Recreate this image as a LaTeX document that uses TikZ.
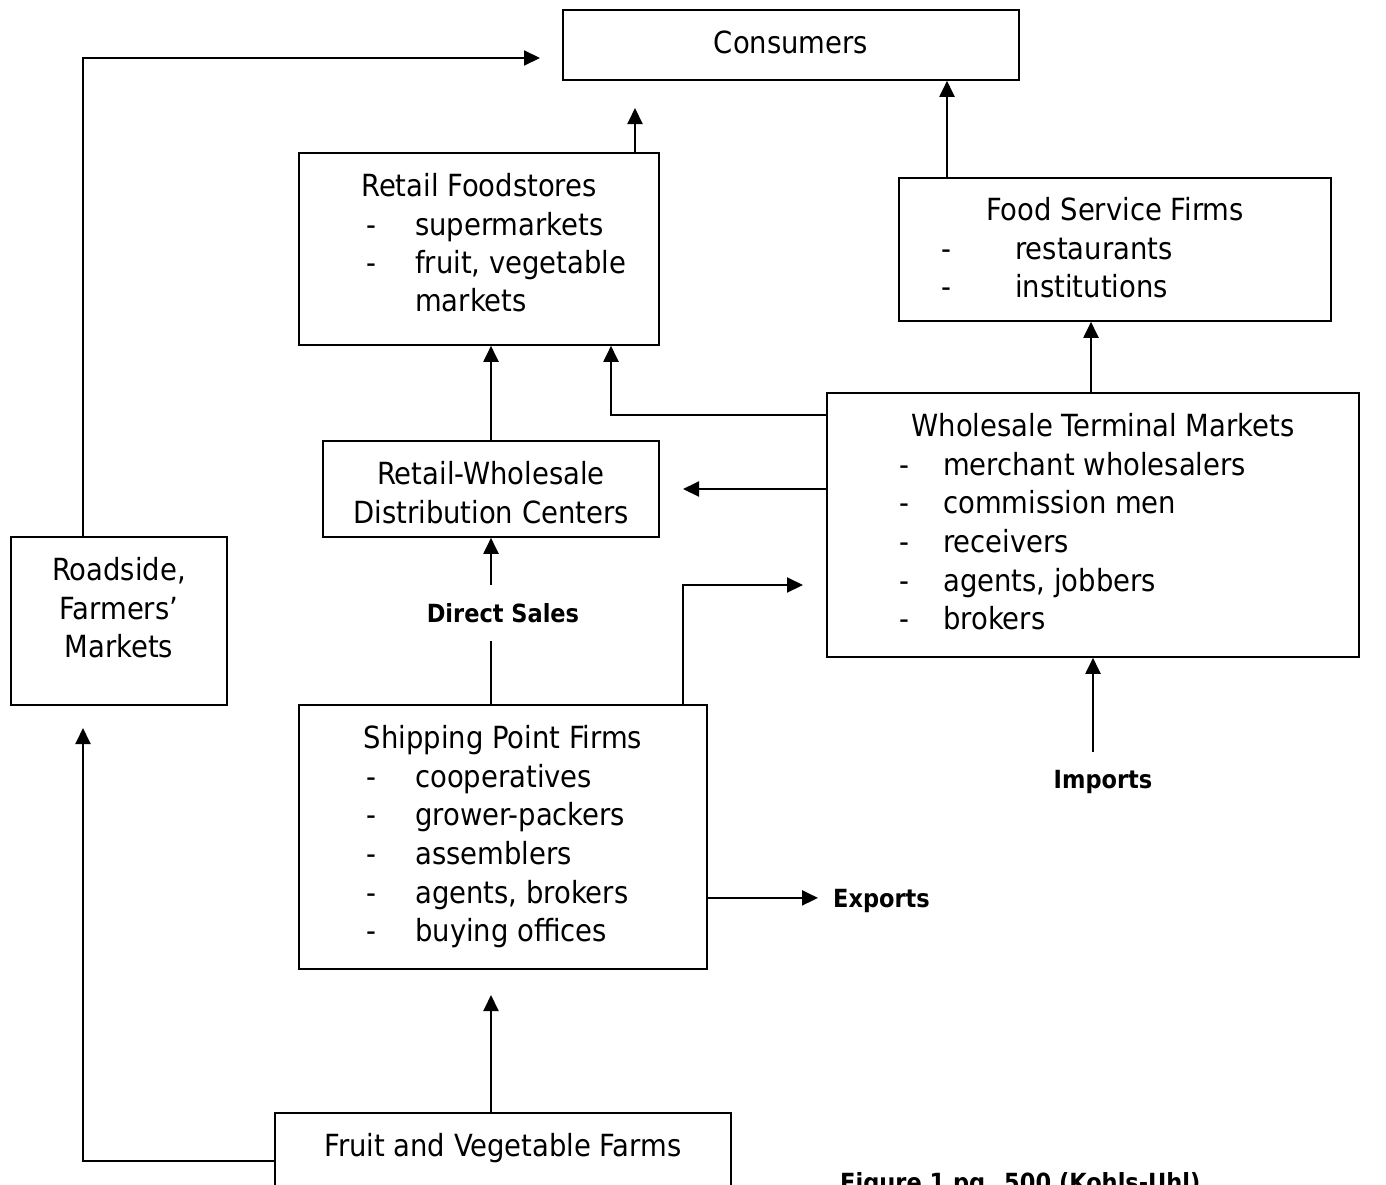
\documentclass[tikz,border=0pt]{standalone}
\usepackage{fontspec}
\setmainfont{DejaVu Sans Condensed}
\usetikzlibrary{arrows.meta,positioning}
\tikzset{
  box/.style={draw, line width=1.6pt, inner sep=0pt},
  flow/.style={line width=2pt, -{Triangle[length=16pt,width=15pt]}},
  link/.style={line width=2pt},
  txt/.style={inner sep=0pt, font=\fontsize{30.5}{38.6}\selectfont},
  lbl/.style={inner sep=0pt, font=\bfseries\fontsize{25}{30}\selectfont},
}
\begin{document}
\begin{tikzpicture}[x=1pt,y=-1pt]
  \useasboundingbox (0,0) rectangle (1386,1184);
  % boxes
  \node[box, minimum width=456, minimum height=70]  (cons)   at (791,45)   {};
  \node[box, minimum width=360, minimum height=192] (retail) at (479,249)  {};
  \node[box, minimum width=432, minimum height=143] (food)   at (1115,249.5) {};
  \node[box, minimum width=532, minimum height=264] (whole)  at (1093,525)  {};
  \node[box, minimum width=336, minimum height=96]  (dist)   at (491,489)  {};
  \node[box, minimum width=216, minimum height=168] (road)   at (119,621)  {};
  \node[box, minimum width=408, minimum height=264] (ship)   at (503,837)  {};
  \node[box, minimum width=456, minimum height=140] (farms)  at (503,1183) {};
  % box texts
  \node[txt, anchor=base] (cons_t)   at (791,53)   {Consumers};
  \node[txt, anchor=base] (retail_t) at (479,196)  {Retail Foodstores};
  \foreach \y/\item in {235/supermarkets, 273/{fruit, vegetable}}
    \node[txt, anchor=base west] at (366,\y) {-};
  \foreach \y/\item in {235/supermarkets, 273/{fruit, vegetable}, 311/markets}
    \node[txt, anchor=base west] at (415,\y) {\item};
  \node[txt, anchor=base] (food_t)   at (1115,220) {Food Service Firms};
  \foreach \y/\item in {259/restaurants, 297/institutions}{
    \node[txt, anchor=base west] at (941,\y) {-};
    \node[txt, anchor=base west] at (1015,\y) {\item};
  }
  \node[txt, anchor=base] (whole_t)  at (1103,436) {Wholesale Terminal Markets};
  \foreach \y/\item in {475/merchant wholesalers, 513/commission men, 552/receivers,
      591/{agents, jobbers}, 629/brokers}{
    \node[txt, anchor=base west] at (899,\y) {-};
    \node[txt, anchor=base west] at (943,\y) {\item};
  }
  \node[txt, anchor=base] (dist_t1)  at (491,484)  {Retail-Wholesale};
  \node[txt, anchor=base] (dist_t2)  at (491,523)  {Distribution Centers};
  \node[txt, anchor=base] (road_t1)  at (119,580)  {Roadside,};
  \node[txt, anchor=base] (road_t2)  at (119,619)  {Farmers’};
  \node[txt, anchor=base] (road_t3)  at (119,657)  {Markets};
  \node[txt, anchor=base] (ship_t)   at (503,748)  {Shipping Point Firms};
  \foreach \y/\item in {787/cooperatives, 825/grower-packers, 864/assemblers,
      903/{agents, brokers}, 941/buying offices}{
    \node[txt, anchor=base west] at (366,\y) {-};
    \node[txt, anchor=base west] at (415,\y) {\item};
  }
  \node[txt, anchor=base] (farms_t)  at (503,1156) {Fruit and Vegetable Farms};
  % labels
  \node[lbl, inner ysep=18pt, anchor=base] (direct) at (503,622) {Direct Sales};
  \node[lbl, inner ysep=17.5pt, anchor=base] (imports) at (1103,788) {Imports};
  \node[lbl, inner xsep=15pt, text depth=0pt, anchor=base west] (exports) at (818,907) {Exports};
  \node[lbl, anchor=base west] (caption) at (840,1191) {Figure 1 pg. 500 (Kohls-Uhl)};
  % free ends
  \coordinate (cons_in1) at (540,58);
  \coordinate (cons_in2) at (635,108);
  \coordinate (road_in)  at (83,728);
  \coordinate (ship_in)  at (491,995);
  \coordinate (whole_in) at (803,585);
  \coordinate (dist_in)  at (683,489);
  % connectors
  \draw[flow] ([xshift=-36pt]road.north) |- (cons_in1);
  \draw[flow] ([yshift=22pt]farms.west) -| (road_in);
  \draw[flow] ([xshift=-12pt]farms.north) -- (ship_in);
  \draw[link] ([xshift=-12pt]ship.north) -- (direct.south -| dist.south);
  \draw[flow] (direct.north -| dist.south) -- (dist.south);
  \draw[flow] ([xshift=180pt]ship.north) |- (whole_in);
  \draw[flow] (ship.east |- exports.west) -- (exports.west);
  \draw[flow] (imports.north -| whole.south) -- (whole.south);
  \draw[flow] ([xshift=-2pt]whole.north) -- ([xshift=-2pt]whole.north |- food.south);
  \draw[flow] ([xshift=-168pt]food.north) -- ([xshift=-168pt]food.north |- cons.south);
  \draw[flow] ([xshift=156pt]retail.north) -- (cons_in2);
  \draw[flow] (dist.north) -- (dist.north |- retail.south);
  \draw[flow] ([yshift=110pt]whole.west) -| ([xshift=132pt]retail.south);
  \draw[flow] ([yshift=36pt]whole.west) -- (dist_in);
\end{tikzpicture}
\end{document}
